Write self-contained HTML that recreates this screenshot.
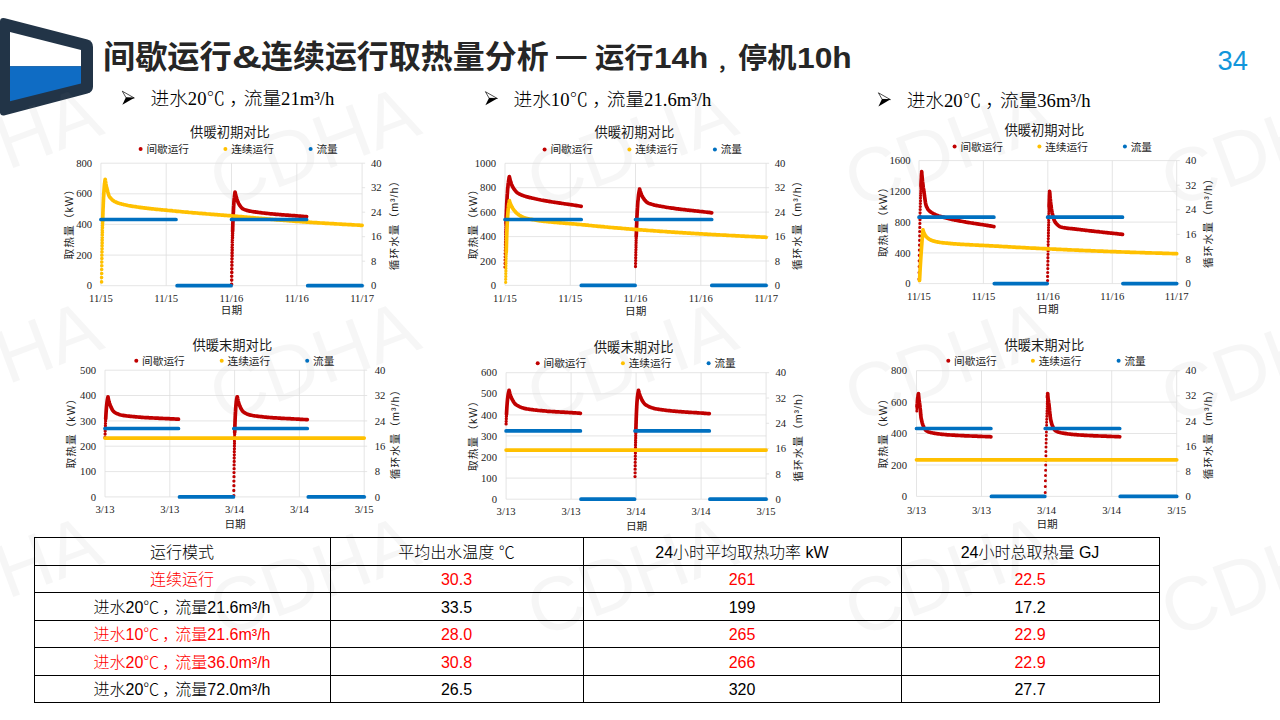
<!DOCTYPE html>
<html lang="zh-CN">
<head>
<meta charset="utf-8">
<title>间歇运行&amp;连续运行取热量分析</title>
<style>
html,body{margin:0;padding:0;background:#fff;}
body{width:1280px;height:720px;position:relative;overflow:hidden;font-family:"Liberation Sans","Noto Sans CJK SC",sans-serif;}
#bg{position:absolute;left:0;top:0;}
h1{position:absolute;left:0;top:0;margin:0;font-size:32px;line-height:44px;font-weight:bold;color:#262626;white-space:nowrap;}
h1 span{position:absolute;transform-origin:0 50%;white-space:nowrap;}
.pg{position:absolute;left:1217.6px;top:45.6px;font-size:27.3px;line-height:30px;color:#1296db;}
.bl{position:absolute;font-family:"Liberation Serif","Noto Sans CJK SC",serif;font-weight:300;font-size:18.67px;line-height:24px;color:#000;white-space:nowrap;}
.bl b{font-weight:inherit;font-family:"Noto Serif CJK SC",serif;}
.bl u{text-decoration:none;position:relative;left:4px;}
table{position:absolute;left:33.5px;top:537px;border-collapse:collapse;font-size:16px;color:#000;table-layout:fixed;}
td{border:1px solid #000;height:22.9px;font-weight:300;padding:3.6px 0 0 0;text-align:center;line-height:22.9px;white-space:nowrap;}
td u{text-decoration:none;position:relative;left:3px;}
tr.r td{color:#ff0000;}
</style>
</head>
<body>
<svg id="bg" width="1280" height="720" viewBox="0 0 1280 720">
<path d="M0 21 Q0.3 17.3 5 18.3 L87.5 39.6 Q93 41.2 93 47 L93 86.5 Q93 92 87.5 93.6 L5 115.2 Q0.3 116.2 0 112.5 Z" fill="#223447"/>
<path d="M10 32 L81 50 L81 66.2 L10 66.2 Z" fill="#ffffff"/>
<path d="M10 66.2 L81 66.2 L81 83.6 L10 101.2 Z" fill="#0f6cc4"/>
<g font-family='"Liberation Sans",sans-serif' font-size="76" fill="#808080" fill-opacity="0.071"><text transform="translate(-4.0 145.6) rotate(-20.5)" text-anchor="middle" y="27">CDHA</text><text transform="translate(313.5 145.6) rotate(-20.5)" text-anchor="middle" y="27">CDHA</text><text transform="translate(631.0 145.6) rotate(-20.5)" text-anchor="middle" y="27">CDHA</text><text transform="translate(948.5 145.6) rotate(-20.5)" text-anchor="middle" y="27">CDHA</text><text transform="translate(1265.0 145.6) rotate(-20.5)" text-anchor="middle" y="27">CDHA</text><text transform="translate(-4.0 360.2) rotate(-20.5)" text-anchor="middle" y="27">CDHA</text><text transform="translate(313.5 360.2) rotate(-20.5)" text-anchor="middle" y="27">CDHA</text><text transform="translate(631.0 360.2) rotate(-20.5)" text-anchor="middle" y="27">CDHA</text><text transform="translate(948.5 360.2) rotate(-20.5)" text-anchor="middle" y="27">CDHA</text><text transform="translate(1265.0 360.2) rotate(-20.5)" text-anchor="middle" y="27">CDHA</text><text transform="translate(-4.0 574.8) rotate(-20.5)" text-anchor="middle" y="27">CDHA</text><text transform="translate(313.5 574.8) rotate(-20.5)" text-anchor="middle" y="27">CDHA</text><text transform="translate(631.0 574.8) rotate(-20.5)" text-anchor="middle" y="27">CDHA</text><text transform="translate(948.5 574.8) rotate(-20.5)" text-anchor="middle" y="27">CDHA</text><text transform="translate(1265.0 574.8) rotate(-20.5)" text-anchor="middle" y="27">CDHA</text></g>
<path d="M122.3 91.2L134.3 98.0L126.1 97.8Z" fill="#fff" stroke="#000" stroke-width="0.7" stroke-linejoin="miter"/><path d="M125.9 97.4L134.5 97.7L122.3 104.8Z" fill="#000"/><path d="M485.4 91.7L497.4 98.5L489.2 98.3Z" fill="#fff" stroke="#000" stroke-width="0.7" stroke-linejoin="miter"/><path d="M489.0 97.9L497.6 98.2L485.4 105.3Z" fill="#000"/><path d="M878.4 92.8L890.4 99.6L882.2 99.4Z" fill="#fff" stroke="#000" stroke-width="0.7" stroke-linejoin="miter"/><path d="M882.0 99.0L890.6 99.3L878.4 106.4Z" fill="#000"/>
<g><path d="M100.9 285.7H362.1M100.9 255.1H362.1M100.9 224.4H362.1M100.9 193.8H362.1M100.9 163.2H362.1M100.9 163.2V285.7M166.2 163.2V285.7M231.5 163.2V285.7M296.8 163.2V285.7M362.1 163.2V285.7M362.1 285.7h3M362.1 261.2h3M362.1 236.7h3M362.1 212.2h3M362.1 187.7h3M362.1 163.2h3" stroke="#dedede" stroke-width="0.8" fill="none"/>
<path d="M232.6 231.4L232.7 229.5L232.7 227.6L232.8 225.9L232.8 224.2L232.9 222.5L233.0 221.0L233.0 219.5L233.1 218.1L233.1 216.7L233.2 215.4L233.2 214.1L233.3 212.9L233.4 211.7L233.4 210.6L233.5 209.5L233.5 208.5L233.6 207.5L233.6 206.6L233.7 205.7L233.8 204.0L233.9 202.4L234.0 201.0L234.1 199.7L234.2 198.5L234.4 197.3L234.5 196.3L234.6 195.4L234.8 194.1L234.9 193.0L235.0 192.3M235.1 192.0L235.3 193.0L235.4 193.9L235.6 194.8L235.9 195.8L236.2 196.8L236.5 197.9L236.8 198.8L237.2 199.9L237.5 201.0L237.9 201.8L238.2 202.7L238.7 203.7L239.2 204.6L239.7 205.4L240.3 206.2L240.9 207.0L241.6 207.7L242.3 208.4L243.0 208.9L244.0 209.4L245.0 209.8L245.9 210.1L246.8 210.4L247.8 210.6L248.8 210.9L249.8 211.1L250.9 211.3L252.1 211.5L253.2 211.7L254.1 211.8L255.1 211.9L256.0 212.1L257.0 212.2L258.0 212.3L259.0 212.5L260.1 212.6L261.1 212.7L262.2 212.9L263.4 213.0L264.5 213.1L265.7 213.3L266.9 213.4L268.1 213.5L269.4 213.7L270.7 213.8L272.0 213.9L273.3 214.0L274.2 214.1L275.1 214.2L276.0 214.3L277.0 214.4L277.9 214.4L278.9 214.5L279.8 214.6L280.8 214.7L281.8 214.8L282.8 214.8L283.8 214.9L284.8 215.0L285.9 215.1L286.9 215.2L288.0 215.2L289.1 215.3L290.2 215.4L291.2 215.5L292.4 215.6L293.5 215.7L294.6 215.7L295.8 215.8L296.9 215.9L298.1 216.0L299.3 216.1L300.5 216.2L301.7 216.3L302.9 216.4L304.1 216.5L305.3 216.6L306.6 216.7" stroke="#c00000" stroke-width="3.7" stroke-linecap="round" stroke-linejoin="round" fill="none"/>
<path d="M231.6 284.2h0M231.7 280.1h0M231.7 276.2h0M231.8 272.4h0M231.8 268.8h0M231.9 265.3h0M231.9 262.0h0M232.0 258.8h0M232.1 255.8h0M232.1 252.9h0M232.2 250.1h0M232.2 247.4h0M232.3 244.8h0M232.3 242.3h0M232.4 240.0h0M232.5 237.7h0M232.5 235.5h0M232.6 233.4h0" stroke="#c00000" stroke-width="3.6" stroke-linecap="round" fill="none"/>
<path d="M102.7 221.5L102.7 219.5L102.8 217.6L102.8 215.8L102.9 214.1L102.9 212.4L103.0 210.8L103.0 209.3L103.1 207.8L103.2 206.4L103.2 205.0L103.3 203.7L103.3 202.5L103.4 201.3L103.4 200.1L103.5 199.0L103.5 197.9L103.6 196.8L103.7 195.9L103.7 194.9L103.8 194.0L103.9 192.2L104.0 190.6L104.1 189.1L104.2 187.8L104.3 186.5L104.4 185.3L104.5 184.3L104.6 183.3L104.8 182.3L104.9 181.1L105.1 180.0L105.1 179.6M105.2 179.3L105.3 180.3L105.5 181.4L105.6 182.4L105.8 183.6L106.0 184.5L106.2 185.5L106.4 186.5L106.6 187.5L106.9 188.5L107.2 189.6L107.5 190.8L107.8 192.0L108.2 193.3L108.6 194.6L109.0 195.7L109.4 196.6L110.1 197.5L110.8 198.3L111.5 199.1L112.2 199.9L113.1 200.5L113.9 201.1L114.8 201.6L115.8 202.0L116.8 202.5L117.9 202.9L119.0 203.3L119.9 203.6L120.8 203.8L121.7 204.1L122.7 204.3L123.7 204.6L124.7 204.8L125.8 205.0L126.9 205.2L128.0 205.5L129.1 205.7L130.3 205.9L131.5 206.1L132.8 206.3L134.0 206.5L135.3 206.7L136.7 206.9L137.6 207.0L138.5 207.2L139.4 207.3L140.4 207.4L141.3 207.6L142.3 207.7L143.3 207.8L144.3 207.9L145.3 208.1L146.4 208.2L147.4 208.3L148.5 208.4L149.5 208.6L150.6 208.7L151.7 208.8L152.9 208.9L154.0 209.0L155.1 209.2L156.3 209.3L157.5 209.4L158.7 209.5L159.9 209.6L161.1 209.8L162.3 209.9L163.6 210.0L164.9 210.1L166.1 210.2L167.4 210.4L168.8 210.5L170.1 210.6L171.4 210.7L172.8 210.9L174.2 211.0L175.5 211.1L176.9 211.3L178.4 211.4L179.8 211.5L181.2 211.7L182.7 211.8L184.2 212.0L185.7 212.1L187.2 212.2L188.7 212.4L190.2 212.5L191.8 212.6L193.4 212.8L194.9 212.9L196.5 213.0L198.2 213.2L199.8 213.3L201.4 213.4L203.1 213.6L204.8 213.7L206.5 213.9L208.2 214.0L209.9 214.1L211.6 214.3L213.4 214.4L215.2 214.6L217.0 214.7L217.9 214.8L218.8 214.8L219.7 214.9L220.6 215.0L221.5 215.1L222.4 215.1L223.3 215.2L224.3 215.3L225.2 215.4L226.1 215.4L227.1 215.5L228.0 215.6L229.0 215.7L229.9 215.7L230.9 215.8L231.8 215.9L232.8 216.0L233.8 216.1L234.7 216.1L235.7 216.2L236.7 216.3L237.7 216.4L238.6 216.5L239.6 216.6L240.6 216.6L241.6 216.7L242.6 216.8L243.6 216.9L244.6 217.0L245.7 217.1L246.7 217.2L247.7 217.3L248.7 217.3L249.8 217.4L250.8 217.5L251.8 217.6L252.9 217.7L253.9 217.8L255.0 217.9L256.0 218.0L257.1 218.1L258.1 218.2L259.2 218.3L260.3 218.4L261.4 218.4L262.4 218.5L263.5 218.6L264.6 218.7L265.7 218.8L266.8 218.9L267.9 219.0L269.0 219.1L270.1 219.2L271.2 219.3L272.3 219.4L273.5 219.5L274.6 219.6L275.7 219.7L276.8 219.8L278.0 219.9L279.1 220.0L280.3 220.1L281.4 220.2L282.6 220.2L283.7 220.3L284.9 220.4L286.0 220.5L287.2 220.6L288.4 220.7L289.6 220.8L290.7 220.9L291.9 221.0L293.1 221.1L294.3 221.2L295.5 221.3L296.7 221.4L297.9 221.5L299.1 221.5L300.3 221.6L301.6 221.7L302.8 221.8L304.0 221.9L305.2 222.0L306.5 222.1L307.7 222.2L308.9 222.2L310.2 222.3L311.4 222.4L312.7 222.5L314.0 222.6L315.2 222.6L316.5 222.7L317.8 222.8L319.0 222.9L320.3 223.0L321.6 223.0L322.9 223.1L324.2 223.2L325.5 223.3L326.8 223.4L328.1 223.4L329.4 223.5L330.7 223.6L332.0 223.7L333.4 223.7L334.7 223.8L336.0 223.9L337.4 224.0L338.7 224.0L340.0 224.1L341.4 224.2L342.7 224.3L344.1 224.3L345.4 224.4L346.8 224.5L348.2 224.6L349.6 224.6L350.9 224.7L352.3 224.8L353.7 224.9L355.1 225.0L356.5 225.0L357.9 225.1L359.3 225.2L360.7 225.3L362.1 225.4" stroke="#ffc000" stroke-width="3.7" stroke-linecap="round" stroke-linejoin="round" fill="none"/>
<path d="M101.6 281.9h0M101.6 277.6h0M101.7 273.5h0M101.7 269.5h0M101.8 265.7h0M101.8 262.1h0M101.9 258.5h0M101.9 255.2h0M102.0 251.9h0M102.1 248.8h0M102.1 245.8h0M102.2 242.9h0M102.2 240.1h0M102.3 237.5h0M102.3 234.9h0M102.4 232.4h0M102.4 230.1h0M102.5 227.8h0M102.5 225.6h0M102.6 223.5h0" stroke="#ffc000" stroke-width="3.6" stroke-linecap="round" fill="none"/>
<path d="M100.9 219.5H176.0M231.5 219.5H306.6M177.1 285.7H231.1M307.7 285.7H362.1" stroke="#0070c0" stroke-width="3.7" stroke-linecap="round" fill="none"/>
<g font-family='"Liberation Serif","Noto Sans CJK SC",serif' font-size="10.67" fill="#1c1c1c">
<text x="92.2" y="289.3" text-anchor="end">0</text>
<text x="92.2" y="258.7" text-anchor="end">200</text>
<text x="92.2" y="228.0" text-anchor="end">400</text>
<text x="92.2" y="197.4" text-anchor="end">600</text>
<text x="92.2" y="166.8" text-anchor="end">800</text>
<text x="371.0" y="289.3">0</text>
<text x="371.0" y="264.8">8</text>
<text x="371.0" y="240.3">16</text>
<text x="371.0" y="215.8">24</text>
<text x="371.0" y="191.3">32</text>
<text x="371.0" y="166.8">40</text>
<text x="100.9" y="301.7" text-anchor="middle">11/15</text>
<text x="166.2" y="301.7" text-anchor="middle">11/15</text>
<text x="231.5" y="301.7" text-anchor="middle">11/16</text>
<text x="296.8" y="301.7" text-anchor="middle">11/16</text>
<text x="362.1" y="301.7" text-anchor="middle">11/17</text>
</g>
<g font-family='"Liberation Sans","Noto Sans CJK SC",sans-serif' fill="#1c1c1c">
<text x="230.0" y="136.8" text-anchor="middle" font-size="13.3">供暖初期对比</text>
<text x="231.4" y="314.3" text-anchor="middle" font-size="10.67">日期</text>
<circle cx="140.6" cy="149.0" r="2" fill="#c00000"/>
<text x="146.4" y="152.9" font-size="10.67">间歇运行</text>
<circle cx="225.4" cy="149.0" r="2" fill="#ffc000"/>
<text x="231.2" y="152.9" font-size="10.67">连续运行</text>
<circle cx="310.6" cy="149.0" r="2" fill="#0070c0"/>
<text x="316.4" y="152.9" font-size="10.67">流量</text>
<text transform="translate(69.4 221.9) rotate(-90)" text-anchor="middle" font-size="10.67" y="3.9" textLength="75" lengthAdjust="spacing">取热量（kW）</text>
<text transform="translate(393.8 223.0) rotate(-90)" text-anchor="middle" font-size="10.67" y="3.9" textLength="94.4" lengthAdjust="spacing">循环水量（m³/h）</text>
</g></g>
<g><path d="M505.0 285.4H766.1M505.0 261.0H766.1M505.0 236.6H766.1M505.0 212.1H766.1M505.0 187.7H766.1M505.0 163.3H766.1M505.0 163.3V285.4M570.3 163.3V285.4M635.5 163.3V285.4M700.8 163.3V285.4M766.1 163.3V285.4M766.1 285.4h3M766.1 261.0h3M766.1 236.6h3M766.1 212.1h3M766.1 187.7h3M766.1 163.3h3" stroke="#dedede" stroke-width="0.8" fill="none"/>
<path d="M506.0 223.3L506.1 221.3L506.1 219.4L506.2 217.6L506.2 215.8L506.3 214.2L506.4 212.5L506.4 210.9L506.5 209.4L506.6 208.0L506.6 206.6L506.7 205.2L506.7 203.9L506.8 202.6L506.9 201.4L506.9 200.3L507.0 199.1L507.1 198.0L507.1 197.0L507.2 196.0L507.2 195.0L507.3 194.1L507.4 193.2L507.5 191.5L507.6 189.9L507.7 188.4L507.9 187.1L508.0 185.8L508.1 184.6L508.2 183.5L508.4 182.5L508.5 181.6L508.7 180.3L508.9 179.1L509.0 178.1L509.2 177.2L509.3 176.9M509.4 176.6L509.5 177.5L509.8 178.4L510.0 179.3L510.2 180.3L510.5 181.2L510.8 182.2L511.1 183.1L511.4 184.1L511.8 185.1L512.2 186.0L512.7 186.9L513.2 187.8L513.7 188.6L514.3 189.4L514.9 190.2L515.5 191.0L516.2 191.7L516.9 192.4L517.7 193.0L518.5 193.5L519.3 194.0L520.2 194.4L521.1 194.8L522.1 195.2L523.1 195.6L524.2 196.0L525.3 196.3L526.4 196.7L527.3 196.9L528.2 197.1L529.1 197.4L530.0 197.6L531.0 197.8L532.0 198.1L533.0 198.3L534.1 198.5L535.2 198.8L536.3 199.0L537.4 199.3L538.5 199.5L539.7 199.7L540.9 200.0L542.1 200.2L543.4 200.4L544.6 200.7L545.9 200.9L547.3 201.1L548.2 201.3L549.1 201.4L550.0 201.6L550.9 201.7L551.9 201.9L552.8 202.0L553.8 202.2L554.8 202.3L555.8 202.5L556.8 202.6L557.8 202.8L558.8 202.9L559.8 203.1L560.9 203.2L561.9 203.4L563.0 203.5L564.1 203.7L565.2 203.9L566.3 204.0L567.4 204.2L568.6 204.3L569.7 204.5L570.8 204.7L572.0 204.8L573.2 205.0L574.4 205.2L575.6 205.4L576.8 205.6L578.0 205.8L579.3 206.0L580.5 206.2L581.2 206.3M636.2 236.4L636.3 234.4L636.4 232.6L636.4 230.8L636.5 229.0L636.5 227.3L636.6 225.7L636.7 224.1L636.7 222.6L636.8 221.2L636.8 219.8L636.9 218.4L636.9 217.1L637.0 215.9L637.1 214.7L637.1 213.5L637.2 212.4L637.2 211.3L637.3 210.3L637.4 209.3L637.4 208.3L637.5 207.4L637.6 205.6L637.7 204.0L637.8 202.5L637.9 201.1L638.1 199.8L638.2 198.6L638.3 197.4L638.4 196.4L638.5 195.4L638.6 194.5L638.8 193.3L639.0 192.2L639.2 191.2L639.4 190.1L639.6 189.3M639.6 189.1L639.9 190.0L640.2 191.0L640.5 191.9L640.8 192.8L641.1 193.8L641.5 194.8L642.0 195.8L642.4 196.6L642.9 197.4L643.4 198.2L643.9 198.9L644.4 199.7L645.0 200.4L645.7 201.1L646.3 201.8L647.1 202.4L648.0 203.0L649.0 203.4L649.9 203.7L650.8 204.0L651.7 204.3L652.7 204.6L653.7 204.9L654.8 205.2L655.9 205.4L657.0 205.6L657.9 205.8L658.8 206.0L659.8 206.1L660.7 206.3L661.7 206.5L662.7 206.6L663.7 206.8L664.8 207.0L665.9 207.2L667.0 207.4L668.1 207.5L669.3 207.7L670.5 207.9L671.7 208.1L672.9 208.2L674.2 208.4L675.5 208.6L676.8 208.8L678.1 208.9L679.0 209.1L680.0 209.2L680.9 209.3L681.8 209.4L682.8 209.5L683.7 209.6L684.7 209.7L685.7 209.8L686.7 210.0L687.7 210.1L688.7 210.2L689.8 210.3L690.8 210.4L691.9 210.5L693.0 210.6L694.0 210.8L695.1 210.9L696.2 211.0L697.4 211.1L698.5 211.2L699.6 211.4L700.8 211.5L701.9 211.6L703.1 211.7L704.3 211.9L705.5 212.0L706.7 212.2L708.0 212.3L709.2 212.4L710.4 212.6L711.7 212.8" stroke="#c00000" stroke-width="3.7" stroke-linecap="round" stroke-linejoin="round" fill="none"/>
<path d="M505.0 267.1h0M505.1 263.5h0M505.1 260.1h0M505.2 256.8h0M505.2 253.6h0M505.3 250.5h0M505.4 247.6h0M505.4 244.7h0M505.5 242.0h0M505.6 239.3h0M505.6 236.8h0M505.7 234.3h0M505.7 231.9h0M505.8 229.7h0M505.9 227.5h0M505.9 225.3h0M635.5 266.5h0M635.6 263.4h0M635.7 260.5h0M635.7 257.7h0M635.8 254.9h0M635.8 252.3h0M635.9 249.8h0M636.0 247.3h0M636.0 245.0h0M636.1 242.7h0M636.1 240.5h0M636.2 238.4h0" stroke="#c00000" stroke-width="3.3" stroke-linecap="round" fill="none"/>
<path d="M506.2 252.3L506.3 250.3L506.3 248.4L506.4 246.6L506.4 244.8L506.5 243.1L506.5 241.4L506.6 239.8L506.6 238.2L506.7 236.7L506.7 235.3L506.8 233.9L506.8 232.5L506.9 231.2L506.9 229.9L507.0 228.7L507.0 227.5L507.1 226.4L507.1 225.3L507.2 224.2L507.2 223.2L507.3 222.2L507.3 221.3L507.4 220.3L507.5 218.6L507.6 216.9L507.7 215.4L507.8 214.0L507.9 212.7L508.0 211.4L508.1 210.3L508.2 209.2L508.3 208.2L508.4 207.2L508.5 205.9L508.7 204.8L508.8 203.7L509.0 202.8L509.2 201.6L509.3 200.9M509.4 200.7L509.6 201.6L509.9 202.4L510.3 203.4L510.6 204.3L511.1 205.3L511.6 206.3L512.0 207.1L512.5 207.9L513.0 208.7L513.6 209.6L514.2 210.4L514.9 211.2L515.6 212.1L516.4 212.9L517.2 213.6L518.1 214.3L519.0 215.0L520.0 215.6L521.0 216.2L521.8 216.6L522.6 217.0L523.5 217.4L524.3 217.8L525.3 218.1L526.2 218.4L527.2 218.6L528.2 218.8L529.2 219.0L530.3 219.2L531.4 219.4L532.5 219.6L533.7 219.8L534.8 220.0L536.1 220.2L537.3 220.4L538.6 220.6L539.9 220.8L541.2 220.9L542.2 221.1L543.1 221.2L544.0 221.3L545.0 221.4L545.9 221.5L546.9 221.6L547.9 221.7L548.9 221.8L550.0 221.9L551.0 222.0L552.1 222.1L553.1 222.2L554.2 222.3L555.3 222.4L556.4 222.5L557.5 222.6L558.7 222.7L559.8 222.8L561.0 222.9L562.2 223.0L563.4 223.1L564.6 223.2L565.8 223.3L567.1 223.4L568.3 223.5L569.6 223.6L570.9 223.7L572.2 223.8L573.5 223.9L574.9 224.0L576.2 224.1L577.6 224.3L579.0 224.4L580.3 224.5L581.8 224.7L583.2 224.8L584.6 224.9L586.1 225.1L587.5 225.2L589.0 225.4L590.5 225.5L592.0 225.7L593.6 225.8L595.1 226.0L596.7 226.1L598.3 226.3L599.8 226.4L601.5 226.6L603.1 226.7L604.7 226.9L606.4 227.0L608.0 227.2L609.7 227.3L611.4 227.5L613.1 227.6L614.9 227.8L616.6 227.9L618.4 228.1L620.2 228.2L621.9 228.4L622.8 228.5L623.8 228.5L624.7 228.6L625.6 228.7L626.5 228.8L627.4 228.8L628.3 228.9L629.3 229.0L630.2 229.1L631.1 229.1L632.1 229.2L633.0 229.3L634.0 229.4L634.9 229.4L635.9 229.5L636.9 229.6L637.8 229.7L638.8 229.7L639.8 229.8L640.7 229.9L641.7 229.9L642.7 230.0L643.7 230.1L644.7 230.2L645.7 230.2L646.7 230.3L647.7 230.4L648.7 230.5L649.7 230.5L650.7 230.6L651.8 230.7L652.8 230.7L653.8 230.8L654.9 230.9L655.9 231.0L656.9 231.0L658.0 231.1L659.0 231.2L660.1 231.3L661.1 231.3L662.2 231.4L663.3 231.5L664.3 231.5L665.4 231.6L666.5 231.7L667.6 231.8L668.7 231.8L669.8 231.9L670.9 232.0L672.0 232.1L673.1 232.1L674.2 232.2L675.3 232.3L676.4 232.3L677.5 232.4L678.6 232.5L679.8 232.6L680.9 232.6L682.0 232.7L683.2 232.8L684.3 232.8L685.5 232.9L686.6 233.0L687.8 233.1L688.9 233.1L690.1 233.2L691.3 233.3L692.4 233.3L693.6 233.4L694.8 233.5L696.0 233.6L697.2 233.6L698.3 233.7L699.5 233.8L700.7 233.8L701.9 233.9L703.2 234.0L704.4 234.1L705.6 234.1L706.8 234.2L708.0 234.3L709.3 234.3L710.5 234.4L711.7 234.5L713.0 234.6L714.2 234.6L715.5 234.7L716.7 234.8L718.0 234.8L719.3 234.9L720.5 235.0L721.8 235.0L723.1 235.1L724.3 235.2L725.6 235.2L726.9 235.3L728.2 235.4L729.5 235.5L730.8 235.5L732.1 235.6L733.4 235.7L734.7 235.7L736.1 235.8L737.4 235.9L738.7 235.9L740.0 236.0L741.4 236.1L742.7 236.1L744.0 236.2L745.4 236.3L746.7 236.3L748.1 236.4L749.5 236.5L750.8 236.5L752.2 236.6L753.6 236.7L754.9 236.7L756.3 236.8L757.7 236.9L759.1 236.9L760.5 237.0L761.9 237.1L763.3 237.1L764.7 237.2L766.1 237.3" stroke="#ffc000" stroke-width="3.7" stroke-linecap="round" stroke-linejoin="round" fill="none"/>
<path d="M505.7 282.3h0M505.7 279.3h0M505.8 276.4h0M505.8 273.6h0M505.9 270.9h0M505.9 268.3h0M505.9 265.8h0M506.0 263.3h0M506.0 261.0h0M506.1 258.7h0M506.1 256.5h0M506.2 254.4h0" stroke="#ffc000" stroke-width="3.3" stroke-linecap="round" fill="none"/>
<path d="M505.0 219.5H581.2M635.5 219.5H711.7M581.3 285.4H635.1M711.8 285.4H766.1" stroke="#0070c0" stroke-width="3.7" stroke-linecap="round" fill="none"/>
<g font-family='"Liberation Serif","Noto Sans CJK SC",serif' font-size="10.67" fill="#1c1c1c">
<text x="496.1" y="289.0" text-anchor="end">0</text>
<text x="496.1" y="264.6" text-anchor="end">200</text>
<text x="496.1" y="240.2" text-anchor="end">400</text>
<text x="496.1" y="215.7" text-anchor="end">600</text>
<text x="496.1" y="191.3" text-anchor="end">800</text>
<text x="496.1" y="166.9" text-anchor="end">1000</text>
<text x="774.7" y="289.0">0</text>
<text x="774.7" y="264.6">8</text>
<text x="774.7" y="240.2">16</text>
<text x="774.7" y="215.7">24</text>
<text x="774.7" y="191.3">32</text>
<text x="774.7" y="166.9">40</text>
<text x="505.0" y="301.7" text-anchor="middle">11/15</text>
<text x="570.3" y="301.7" text-anchor="middle">11/15</text>
<text x="635.5" y="301.7" text-anchor="middle">11/16</text>
<text x="700.8" y="301.7" text-anchor="middle">11/16</text>
<text x="766.1" y="301.7" text-anchor="middle">11/17</text>
</g>
<g font-family='"Liberation Sans","Noto Sans CJK SC",sans-serif' fill="#1c1c1c">
<text x="634.3" y="136.9" text-anchor="middle" font-size="13.3">供暖初期对比</text>
<text x="635.7" y="314.6" text-anchor="middle" font-size="10.67">日期</text>
<circle cx="544.6" cy="149.5" r="2" fill="#c00000"/>
<text x="550.4" y="153.4" font-size="10.67">间歇运行</text>
<circle cx="629.4" cy="149.5" r="2" fill="#ffc000"/>
<text x="635.2" y="153.4" font-size="10.67">连续运行</text>
<circle cx="714.9" cy="149.5" r="2" fill="#0070c0"/>
<text x="720.7" y="153.4" font-size="10.67">流量</text>
<text transform="translate(472.6 221.8) rotate(-90)" text-anchor="middle" font-size="10.67" y="3.9" textLength="75" lengthAdjust="spacing">取热量（kW）</text>
<text transform="translate(797.5 222.9) rotate(-90)" text-anchor="middle" font-size="10.67" y="3.9" textLength="94.4" lengthAdjust="spacing">循环水量（m³/h）</text>
</g></g>
<g><path d="M919.0 283.6H1176.7M919.0 252.9H1176.7M919.0 222.1H1176.7M919.0 191.4H1176.7M919.0 160.6H1176.7M919.0 160.6V283.6M983.4 160.6V283.6M1047.8 160.6V283.6M1112.3 160.6V283.6M1176.7 160.6V283.6M1176.7 283.6h3M1176.7 259.0h3M1176.7 234.4h3M1176.7 209.8h3M1176.7 185.2h3M1176.7 160.6h3" stroke="#dedede" stroke-width="0.8" fill="none"/>
<path d="M921.0 186.6L921.0 184.6L921.1 182.7L921.2 180.9L921.3 179.2L921.4 177.6L921.4 176.0L921.5 174.5L921.6 173.1M921.7 171.7L921.8 172.7L921.8 173.7L921.9 174.8L922.0 175.7L922.1 176.7L922.2 177.8L922.3 178.9L922.4 180.2L922.5 181.5L922.7 182.8L922.9 184.1L923.0 185.0L923.1 185.9L923.2 186.9L923.3 187.8L923.5 188.8L923.6 189.7L923.8 190.7L923.9 191.8L924.1 192.9L924.3 194.1L924.4 195.3L924.6 196.7L924.8 198.0L925.0 199.4L925.2 200.8L925.4 202.2L925.6 203.4L925.8 204.5L926.1 205.4L926.4 206.3L926.8 207.1L927.3 208.2L927.8 209.1L928.4 209.9L929.0 210.6L929.8 211.3L930.6 211.9L931.5 212.5L932.4 213.0L933.4 213.6L934.4 214.1L935.2 214.5L936.1 214.9L936.9 215.2L937.9 215.6L938.8 215.9L939.8 216.2L940.8 216.5L941.8 216.8L942.9 217.1L944.0 217.4L945.2 217.7L946.3 218.0L947.2 218.3L948.1 218.5L949.0 218.7L950.0 219.0L951.0 219.2L951.9 219.4L952.9 219.6L953.9 219.8L955.0 220.1L956.0 220.3L957.1 220.5L958.2 220.7L959.3 220.9L960.4 221.1L961.5 221.3L962.7 221.5L963.9 221.7L965.1 221.9L966.3 222.2L967.5 222.4L968.8 222.6L970.0 222.8L971.3 223.0L972.6 223.2L973.9 223.4L974.8 223.5L975.7 223.6L976.6 223.8L977.6 223.9L978.5 224.1L979.4 224.2L980.4 224.4L981.3 224.5L982.3 224.6L983.2 224.8L984.2 225.0L985.2 225.1L986.2 225.3L987.2 225.4L988.2 225.6L989.2 225.8L990.2 225.9L991.3 226.1L992.3 226.3L993.4 226.5L993.9 226.6M1049.1 207.1L1049.1 205.1L1049.2 203.2L1049.3 201.4L1049.3 199.6L1049.4 197.8L1049.4 196.1L1049.5 194.5L1049.6 192.9M1049.6 191.4L1049.7 192.3L1049.8 193.3L1049.9 194.3L1049.9 195.2L1050.0 196.2L1050.1 197.3L1050.2 198.5L1050.4 199.8L1050.5 201.2L1050.6 202.1L1050.7 203.0L1050.8 204.0L1050.9 205.0L1051.0 205.9L1051.2 206.9L1051.3 207.8L1051.4 208.8L1051.6 209.7L1051.7 210.6L1052.0 211.9L1052.2 213.1L1052.5 214.3L1052.8 215.5L1053.1 216.6L1053.4 217.7L1053.7 218.8L1054.0 219.8L1054.4 220.7L1054.9 221.7L1055.4 222.5L1056.0 223.2L1056.6 223.9L1057.3 224.7L1058.1 225.4L1059.0 226.1L1059.9 226.6L1060.8 227.0L1061.8 227.2L1062.8 227.5L1063.9 227.7L1064.8 227.8L1065.7 228.0L1066.7 228.1L1067.6 228.3L1068.7 228.4L1069.7 228.5L1070.8 228.6L1071.9 228.7L1073.0 228.8L1074.2 228.9L1075.4 229.1L1076.3 229.2L1077.2 229.3L1078.2 229.4L1079.2 229.5L1080.1 229.6L1081.1 229.8L1082.2 229.9L1083.2 230.0L1084.3 230.1L1085.3 230.3L1086.4 230.4L1087.6 230.5L1088.7 230.7L1089.8 230.8L1091.0 230.9L1092.2 231.1L1093.4 231.2L1094.6 231.3L1095.9 231.5L1097.1 231.6L1098.4 231.7L1099.7 231.9L1101.0 232.0L1102.4 232.2L1103.3 232.3L1104.2 232.4L1105.1 232.5L1106.0 232.6L1106.9 232.7L1107.9 232.8L1108.8 232.9L1109.8 233.0L1110.7 233.1L1111.7 233.2L1112.7 233.3L1113.7 233.4L1114.7 233.5L1115.7 233.6L1116.7 233.7L1117.8 233.8L1118.8 234.0L1119.8 234.1L1120.9 234.2L1121.9 234.3L1122.5 234.4" stroke="#c00000" stroke-width="3.7" stroke-linecap="round" stroke-linejoin="round" fill="none"/>
<path d="M919.0 279.0h0M919.1 272.6h0M919.2 266.6h0M919.2 260.8h0M919.3 255.3h0M919.4 250.1h0M919.5 245.1h0M919.6 240.3h0M919.7 235.8h0M919.7 231.5h0M919.8 227.4h0M919.9 223.4h0M920.0 219.7h0M920.1 216.2h0M920.1 212.8h0M920.2 209.5h0M920.3 206.5h0M920.4 203.5h0M920.5 200.8h0M920.5 198.1h0M920.6 195.6h0M920.7 193.2h0M920.8 190.9h0M920.9 188.7h0M1047.6 280.5h0M1047.6 276.4h0M1047.7 272.5h0M1047.8 268.6h0M1047.8 264.9h0M1047.9 261.2h0M1047.9 257.7h0M1048.0 254.3h0M1048.1 250.9h0M1048.1 247.7h0M1048.2 244.6h0M1048.2 241.5h0M1048.3 238.6h0M1048.4 235.7h0M1048.4 232.9h0M1048.5 230.2h0M1048.5 227.6h0M1048.6 225.0h0M1048.7 222.5h0M1048.7 220.1h0M1048.8 217.8h0M1048.8 215.5h0M1048.9 213.3h0M1049.0 211.2h0M1049.0 209.1h0" stroke="#c00000" stroke-width="3.2" stroke-linecap="round" fill="none"/>
<path d="M919.5 280.5L919.6 279.6L919.6 278.6L919.7 277.7L919.7 276.7L919.8 275.8L919.8 274.9L919.9 274.0L919.9 273.1L920.0 271.3L920.1 269.6L920.2 267.8L920.3 266.2L920.4 264.5L920.5 262.9L920.6 261.3L920.7 259.7L920.8 258.1L920.9 256.6L921.0 255.1L921.1 253.6L921.2 252.2L921.3 250.8L921.4 249.4L921.5 248.0L921.6 246.6L921.7 245.3L921.8 244.0L921.9 242.7L922.0 241.4L922.1 240.2L922.2 239.0L922.3 237.8L922.4 236.6L922.5 235.4L922.6 234.3L922.7 233.2L922.8 232.1L922.9 231.0L922.9 230.5M923.0 229.9L923.2 230.8L923.5 231.7L923.9 232.6L924.2 233.4L924.7 234.3L925.2 235.2L925.7 236.0L926.3 236.7L927.0 237.4L927.8 238.1L928.6 238.8L929.5 239.4L930.3 239.8L931.2 240.2L932.0 240.6L933.0 240.9L934.0 241.1L935.0 241.4L936.1 241.7L937.2 241.9L938.1 242.1L939.0 242.2L939.9 242.4L940.9 242.5L941.9 242.7L943.0 242.8L944.0 242.9L945.1 243.0L946.2 243.1L947.4 243.2L948.6 243.3L949.8 243.4L951.0 243.6L952.3 243.7L953.6 243.8L954.9 243.9L955.8 243.9L956.8 244.0L957.7 244.1L958.7 244.1L959.6 244.2L960.6 244.3L961.6 244.3L962.6 244.4L963.6 244.4L964.7 244.5L965.7 244.6L966.8 244.6L967.8 244.7L968.9 244.7L970.0 244.8L971.2 244.9L972.3 244.9L973.5 245.0L974.6 245.0L975.8 245.1L977.0 245.1L978.2 245.2L979.4 245.3L980.7 245.3L981.9 245.4L983.2 245.4L984.5 245.5L985.7 245.6L987.1 245.6L988.4 245.7L989.7 245.8L991.1 245.8L992.4 245.9L993.8 246.0L995.2 246.1L996.6 246.2L998.1 246.2L999.5 246.3L1001.0 246.4L1002.4 246.5L1003.9 246.6L1005.4 246.6L1007.0 246.7L1008.5 246.8L1010.0 246.9L1011.6 247.0L1013.2 247.1L1014.8 247.2L1016.4 247.3L1018.0 247.3L1019.7 247.4L1021.3 247.5L1023.0 247.6L1024.7 247.7L1026.4 247.8L1028.1 247.9L1029.8 248.0L1031.6 248.1L1033.4 248.1L1035.1 248.2L1036.9 248.3L1037.8 248.4L1038.7 248.4L1039.7 248.5L1040.6 248.5L1041.5 248.5L1042.4 248.6L1043.3 248.6L1044.3 248.7L1045.2 248.7L1046.1 248.8L1047.1 248.8L1048.0 248.9L1049.0 248.9L1049.9 249.0L1050.9 249.0L1051.9 249.0L1052.8 249.1L1053.8 249.1L1054.8 249.2L1055.7 249.2L1056.7 249.3L1057.7 249.3L1058.7 249.4L1059.7 249.4L1060.7 249.4L1061.7 249.5L1062.7 249.5L1063.7 249.6L1064.7 249.6L1065.7 249.7L1066.8 249.7L1067.8 249.8L1068.8 249.8L1069.9 249.9L1070.9 249.9L1071.9 250.0L1073.0 250.0L1074.0 250.0L1075.1 250.1L1076.1 250.1L1077.2 250.2L1078.3 250.2L1079.3 250.3L1080.4 250.3L1081.5 250.4L1082.6 250.4L1083.7 250.5L1084.7 250.5L1085.8 250.6L1086.9 250.6L1088.0 250.6L1089.1 250.7L1090.3 250.7L1091.4 250.8L1092.5 250.8L1093.6 250.9L1094.7 250.9L1095.9 251.0L1097.0 251.0L1098.1 251.1L1099.3 251.1L1100.4 251.2L1101.6 251.2L1102.7 251.2L1103.9 251.3L1105.1 251.3L1106.2 251.4L1107.4 251.4L1108.6 251.5L1109.7 251.5L1110.9 251.6L1112.1 251.6L1113.3 251.6L1114.5 251.7L1115.7 251.7L1116.9 251.8L1118.1 251.8L1119.3 251.9L1120.5 251.9L1121.8 252.0L1123.0 252.0L1124.2 252.0L1125.4 252.1L1126.7 252.1L1127.9 252.2L1129.2 252.2L1130.4 252.3L1131.7 252.3L1132.9 252.3L1134.2 252.4L1135.4 252.4L1136.7 252.5L1138.0 252.5L1139.3 252.5L1140.5 252.6L1141.8 252.6L1143.1 252.7L1144.4 252.7L1145.7 252.8L1147.0 252.8L1148.3 252.8L1149.6 252.9L1150.9 252.9L1152.3 253.0L1153.6 253.0L1154.9 253.0L1156.2 253.1L1157.6 253.1L1158.9 253.2L1160.3 253.2L1161.6 253.2L1163.0 253.3L1164.3 253.3L1165.7 253.4L1167.0 253.4L1168.4 253.4L1169.8 253.5L1171.2 253.5L1172.5 253.6L1173.9 253.6L1175.3 253.7L1176.7 253.7" stroke="#ffc000" stroke-width="3.7" stroke-linecap="round" stroke-linejoin="round" fill="none"/>
<path d="M919.0 217.2H993.9M1047.6 217.2H1122.5M994.3 283.6H1047.2M1122.9 283.6H1176.7" stroke="#0070c0" stroke-width="3.7" stroke-linecap="round" fill="none"/>
<g font-family='"Liberation Serif","Noto Sans CJK SC",serif' font-size="10.67" fill="#1c1c1c">
<text x="910.7" y="287.2" text-anchor="end">0</text>
<text x="910.7" y="256.5" text-anchor="end">400</text>
<text x="910.7" y="225.7" text-anchor="end">800</text>
<text x="910.7" y="195.0" text-anchor="end">1200</text>
<text x="910.7" y="164.2" text-anchor="end">1600</text>
<text x="1185.6" y="287.2">0</text>
<text x="1185.6" y="262.6">8</text>
<text x="1185.6" y="238.0">16</text>
<text x="1185.6" y="213.4">24</text>
<text x="1185.6" y="188.8">32</text>
<text x="1185.6" y="164.2">40</text>
<text x="919.0" y="299.5" text-anchor="middle">11/15</text>
<text x="983.4" y="299.5" text-anchor="middle">11/15</text>
<text x="1047.8" y="299.5" text-anchor="middle">11/16</text>
<text x="1112.3" y="299.5" text-anchor="middle">11/16</text>
<text x="1176.7" y="299.5" text-anchor="middle">11/17</text>
</g>
<g font-family='"Liberation Sans","Noto Sans CJK SC",sans-serif' fill="#1c1c1c">
<text x="1044.3" y="134.9" text-anchor="middle" font-size="13.3">供暖初期对比</text>
<text x="1048.0" y="312.6" text-anchor="middle" font-size="10.67">日期</text>
<circle cx="954.6" cy="146.6" r="2" fill="#c00000"/>
<text x="960.4" y="150.5" font-size="10.67">间歇运行</text>
<circle cx="1039.4" cy="146.6" r="2" fill="#ffc000"/>
<text x="1045.2" y="150.5" font-size="10.67">连续运行</text>
<circle cx="1124.9" cy="146.6" r="2" fill="#0070c0"/>
<text x="1130.7" y="150.5" font-size="10.67">流量</text>
<text transform="translate(883.4 219.6) rotate(-90)" text-anchor="middle" font-size="10.67" y="3.9" textLength="75" lengthAdjust="spacing">取热量（kW）</text>
<text transform="translate(1208.0 220.7) rotate(-90)" text-anchor="middle" font-size="10.67" y="3.9" textLength="94.4" lengthAdjust="spacing">循环水量（m³/h）</text>
</g></g>
<g><path d="M105.0 496.9H364.2M105.0 471.6H364.2M105.0 446.2H364.2M105.0 420.9H364.2M105.0 395.5H364.2M105.0 370.2H364.2M105.0 370.2V496.9M169.8 370.2V496.9M234.6 370.2V496.9M299.4 370.2V496.9M364.2 370.2V496.9M364.2 496.9h3M364.2 471.6h3M364.2 446.2h3M364.2 420.9h3M364.2 395.5h3M364.2 370.2h3" stroke="#dedede" stroke-width="0.8" fill="none"/>
<path d="M105.7 419.0L105.8 417.1L105.9 415.3L106.0 413.7L106.1 412.1L106.2 410.7L106.3 409.3L106.4 408.1L106.5 406.9L106.6 405.9L106.7 404.9L106.8 403.9L107.0 402.3L107.2 400.8L107.4 399.6L107.6 398.5L107.8 397.6L107.9 397.2M108.0 396.8L108.1 397.7L108.3 398.6L108.5 399.6L108.7 400.6L109.0 401.5L109.2 402.4L109.5 403.4L109.8 404.3L110.2 405.2L110.6 406.1L111.0 407.1L111.5 408.1L112.0 409.1L112.5 410.1L113.1 410.9L113.7 411.6L114.5 412.2L115.4 412.8L116.4 413.3L117.4 413.8L118.2 414.1L119.1 414.4L120.0 414.7L121.0 415.0L122.0 415.2L123.1 415.4L124.2 415.6L125.3 415.7L126.5 415.9L127.4 416.0L128.3 416.1L129.3 416.2L130.2 416.3L131.2 416.4L132.3 416.5L133.3 416.6L134.4 416.7L135.5 416.8L136.6 416.9L137.8 417.0L139.0 417.1L140.2 417.2L141.4 417.3L142.7 417.4L143.9 417.5L145.2 417.6L146.6 417.6L147.5 417.7L148.4 417.7L149.3 417.8L150.2 417.8L151.2 417.9L152.1 417.9L153.1 418.0L154.1 418.0L155.1 418.1L156.1 418.1L157.1 418.2L158.1 418.2L159.1 418.3L160.2 418.3L161.2 418.4L162.3 418.4L163.4 418.5L164.5 418.5L165.6 418.6L166.7 418.6L167.8 418.7L169.0 418.7L170.1 418.8L171.3 418.8L172.5 418.9L173.7 418.9L174.9 419.0L176.1 419.1L177.3 419.2L178.5 419.2M234.7 432.3L234.8 430.4L234.8 428.5L234.9 426.8L234.9 425.2L235.0 423.6L235.0 422.1L235.1 420.7L235.1 419.4L235.2 418.1L235.2 416.9L235.3 415.8L235.3 414.7L235.4 413.6L235.4 412.6L235.5 411.7L235.6 410.0L235.7 408.4L235.8 407.0L235.9 405.7L236.0 404.6L236.1 403.6L236.2 402.6L236.3 401.4L236.5 400.4L236.6 399.4L236.8 398.4L237.1 397.4L237.2 397.0M237.3 396.8L237.5 397.7L237.7 398.8L237.9 399.7L238.1 400.8L238.3 401.7L238.6 402.6L238.9 403.5L239.2 404.5L239.6 405.4L240.0 406.3L240.4 407.3L240.9 408.3L241.4 409.3L242.0 410.2L242.5 411.1L243.2 411.7L244.0 412.3L244.9 412.9L245.8 413.4L246.8 413.9L247.7 414.2L248.6 414.6L249.5 414.9L250.5 415.1L251.5 415.3L252.5 415.5L253.6 415.7L254.8 415.9L255.9 416.0L256.9 416.1L257.8 416.3L258.8 416.4L259.7 416.5L260.7 416.6L261.8 416.7L262.8 416.8L263.9 417.0L265.0 417.1L266.1 417.2L267.3 417.3L268.5 417.4L269.7 417.5L270.9 417.6L272.1 417.7L273.4 417.8L274.7 417.9L276.0 417.9L277.4 418.0L278.3 418.1L279.2 418.1L280.2 418.2L281.1 418.3L282.1 418.3L283.0 418.4L284.0 418.4L285.0 418.5L286.0 418.5L287.0 418.6L288.1 418.6L289.1 418.7L290.2 418.7L291.2 418.8L292.3 418.8L293.4 418.9L294.5 419.0L295.6 419.0L296.7 419.1L297.9 419.1L299.0 419.2L300.2 419.3L301.3 419.3L302.5 419.4L303.7 419.5L304.9 419.5L306.1 419.6L307.3 419.7" stroke="#c00000" stroke-width="3.7" stroke-linecap="round" stroke-linejoin="round" fill="none"/>
<path d="M105.0 437.4h0M105.1 434.1h0M105.2 431.1h0M105.3 428.3h0M105.4 425.8h0M105.5 423.4h0M105.6 421.1h0M233.8 495.6h0M233.8 490.5h0M233.9 485.7h0M233.9 481.1h0M234.0 476.7h0M234.0 472.6h0M234.1 468.7h0M234.1 464.9h0M234.2 461.4h0M234.2 458.0h0M234.3 454.8h0M234.3 451.7h0M234.4 448.8h0M234.4 446.1h0M234.5 443.5h0M234.5 441.0h0M234.6 438.7h0M234.6 436.4h0M234.7 434.3h0" stroke="#c00000" stroke-width="3.3" stroke-linecap="round" fill="none"/>
<path d="M105.0 438.1L364.2 438.1" stroke="#ffc000" stroke-width="3.7" stroke-linecap="round" stroke-linejoin="round" fill="none"/>
<path d="M105.0 428.5H178.5M233.8 428.5H307.3M179.5 496.9H233.4M308.3 496.9H364.2" stroke="#0070c0" stroke-width="3.7" stroke-linecap="round" fill="none"/>
<g font-family='"Liberation Serif","Noto Sans CJK SC",serif' font-size="10.67" fill="#1c1c1c">
<text x="96.1" y="500.5" text-anchor="end">0</text>
<text x="96.1" y="475.2" text-anchor="end">100</text>
<text x="96.1" y="449.8" text-anchor="end">200</text>
<text x="96.1" y="424.5" text-anchor="end">300</text>
<text x="96.1" y="399.1" text-anchor="end">400</text>
<text x="96.1" y="373.8" text-anchor="end">500</text>
<text x="374.7" y="500.5">0</text>
<text x="374.7" y="475.2">8</text>
<text x="374.7" y="449.8">16</text>
<text x="374.7" y="424.5">24</text>
<text x="374.7" y="399.1">32</text>
<text x="374.7" y="373.8">40</text>
<text x="105.0" y="513.0" text-anchor="middle">3/13</text>
<text x="169.8" y="513.0" text-anchor="middle">3/13</text>
<text x="234.6" y="513.0" text-anchor="middle">3/14</text>
<text x="299.4" y="513.0" text-anchor="middle">3/14</text>
<text x="364.2" y="513.0" text-anchor="middle">3/15</text>
</g>
<g font-family='"Liberation Sans","Noto Sans CJK SC",sans-serif' fill="#1c1c1c">
<text x="232.3" y="349.9" text-anchor="middle" font-size="13.3">供暖末期对比</text>
<text x="235.1" y="527.6" text-anchor="middle" font-size="10.67">日期</text>
<circle cx="136.3" cy="360.8" r="2" fill="#c00000"/>
<text x="142.1" y="364.7" font-size="10.67">间歇运行</text>
<circle cx="221.7" cy="360.8" r="2" fill="#ffc000"/>
<text x="227.5" y="364.7" font-size="10.67">连续运行</text>
<circle cx="307.2" cy="360.8" r="2" fill="#0070c0"/>
<text x="313.0" y="364.7" font-size="10.67">流量</text>
<text transform="translate(71.4 431.0) rotate(-90)" text-anchor="middle" font-size="10.67" y="3.9" textLength="75" lengthAdjust="spacing">取热量（kW）</text>
<text transform="translate(394.6 432.1) rotate(-90)" text-anchor="middle" font-size="10.67" y="3.9" textLength="94.4" lengthAdjust="spacing">循环水量（m³/h）</text>
</g></g>
<g><path d="M506.1 499.2H766.1M506.1 478.1H766.1M506.1 457.0H766.1M506.1 435.9H766.1M506.1 414.9H766.1M506.1 393.8H766.1M506.1 372.7H766.1M506.1 372.7V499.2M571.1 372.7V499.2M636.1 372.7V499.2M701.1 372.7V499.2M766.1 372.7V499.2M766.1 499.2h3M766.1 473.9h3M766.1 448.6h3M766.1 423.3h3M766.1 398.0h3M766.1 372.7h3" stroke="#dedede" stroke-width="0.8" fill="none"/>
<path d="M506.5 414.3L506.6 412.4L506.7 410.5L506.8 408.8L506.9 407.2L507.0 405.7L507.1 404.3L507.2 403.1L507.3 401.9L507.4 400.8L507.5 399.7L507.6 398.8L507.8 397.1L508.0 395.6L508.2 394.3L508.4 393.2L508.6 392.3L508.9 391.1L509.0 390.7M509.1 390.4L509.3 391.3L509.5 392.3L509.8 393.3L510.0 394.2L510.3 395.2L510.7 396.2L511.1 397.2L511.5 398.0L511.9 398.9L512.4 399.8L512.9 400.7L513.4 401.6L514.0 402.5L514.6 403.3L515.2 404.0L516.1 404.7L517.0 405.3L517.8 405.7L518.6 406.2L519.4 406.6L520.3 407.0L521.3 407.4L522.3 407.7L523.3 408.1L524.3 408.4L525.4 408.6L526.6 408.9L527.8 409.0L528.7 409.2L529.6 409.3L530.6 409.5L531.6 409.6L532.6 409.7L533.6 409.9L534.7 410.0L535.8 410.1L536.9 410.2L538.1 410.4L539.2 410.5L540.4 410.6L541.6 410.7L542.9 410.8L544.1 410.9L545.4 411.0L546.7 411.2L548.1 411.3L549.0 411.3L549.9 411.4L550.8 411.5L551.8 411.5L552.7 411.6L553.7 411.6L554.7 411.7L555.7 411.8L556.7 411.8L557.7 411.9L558.7 411.9L559.8 412.0L560.8 412.1L561.9 412.1L562.9 412.2L564.0 412.2L565.1 412.3L566.2 412.4L567.3 412.4L568.5 412.5L569.6 412.6L570.8 412.6L571.9 412.7L573.1 412.8L574.3 412.8L575.5 412.9L576.7 413.0L577.9 413.1L579.2 413.2L580.4 413.3M635.8 431.6L635.9 429.7L635.9 427.8L636.0 426.1L636.0 424.4L636.1 422.8L636.1 421.2L636.2 419.8L636.2 418.3L636.3 417.0L636.3 415.7L636.4 414.4L636.4 413.2L636.5 412.1L636.5 411.0L636.6 409.9L636.6 408.9L636.7 408.0L636.7 407.0L636.8 405.3L636.9 403.7L637.0 402.2L637.1 400.9L637.2 399.7L637.3 398.5L637.4 397.5L637.5 396.5L637.7 395.3L637.8 394.1L638.0 393.1L638.2 392.0L638.4 391.0L638.5 390.6M638.5 390.4L638.7 391.3L638.9 392.3L639.2 393.3L639.5 394.2L639.8 395.2L640.2 396.2L640.6 397.2L641.1 398.2L641.5 399.1L642.0 400.0L642.4 400.9L643.0 401.8L643.5 402.6L644.2 403.4L644.8 404.1L645.7 404.8L646.6 405.3L647.4 405.8L648.2 406.2L649.0 406.7L649.9 407.1L650.9 407.4L651.9 407.8L652.9 408.1L653.9 408.4L655.1 408.7L656.2 408.9L657.1 409.0L658.0 409.2L658.9 409.3L659.9 409.5L660.9 409.6L661.9 409.8L662.9 409.9L664.0 410.0L665.1 410.2L666.2 410.3L667.3 410.5L668.5 410.6L669.6 410.7L670.8 410.8L672.1 411.0L673.3 411.1L674.6 411.2L675.9 411.3L677.2 411.4L678.1 411.5L679.1 411.6L680.0 411.6L680.9 411.7L681.9 411.8L682.8 411.9L683.8 411.9L684.8 412.0L685.8 412.1L686.8 412.1L687.8 412.2L688.8 412.3L689.9 412.3L690.9 412.4L692.0 412.5L693.1 412.5L694.1 412.6L695.2 412.7L696.3 412.7L697.5 412.8L698.6 412.9L699.7 413.0L700.9 413.0L702.1 413.1L703.3 413.2L704.4 413.3L705.6 413.4L706.9 413.5L708.1 413.6L709.3 413.7" stroke="#c00000" stroke-width="3.7" stroke-linecap="round" stroke-linejoin="round" fill="none"/>
<path d="M506.1 423.9h0M506.2 421.3h0M506.3 418.8h0M506.4 416.5h0M635.0 476.6h0M635.1 472.8h0M635.1 469.2h0M635.2 465.7h0M635.2 462.3h0M635.3 459.1h0M635.3 456.1h0M635.4 453.1h0M635.4 450.3h0M635.5 447.6h0M635.5 445.0h0M635.6 442.5h0M635.6 440.2h0M635.7 437.9h0M635.7 435.7h0M635.8 433.6h0" stroke="#c00000" stroke-width="3.3" stroke-linecap="round" fill="none"/>
<path d="M506.1 450.1L766.1 450.1" stroke="#ffc000" stroke-width="3.7" stroke-linecap="round" stroke-linejoin="round" fill="none"/>
<path d="M506.1 430.9H580.4M635.0 430.9H709.3M581.0 499.2H634.6M709.9 499.2H766.1" stroke="#0070c0" stroke-width="3.7" stroke-linecap="round" fill="none"/>
<g font-family='"Liberation Serif","Noto Sans CJK SC",serif' font-size="10.67" fill="#1c1c1c">
<text x="497.0" y="502.8" text-anchor="end">0</text>
<text x="497.0" y="481.7" text-anchor="end">100</text>
<text x="497.0" y="460.6" text-anchor="end">200</text>
<text x="497.0" y="439.6" text-anchor="end">300</text>
<text x="497.0" y="418.5" text-anchor="end">400</text>
<text x="497.0" y="397.4" text-anchor="end">500</text>
<text x="497.0" y="376.3" text-anchor="end">600</text>
<text x="775.5" y="502.8">0</text>
<text x="775.5" y="477.5">8</text>
<text x="775.5" y="452.2">16</text>
<text x="775.5" y="426.9">24</text>
<text x="775.5" y="401.6">32</text>
<text x="775.5" y="376.3">40</text>
<text x="506.1" y="515.0" text-anchor="middle">3/13</text>
<text x="571.1" y="515.0" text-anchor="middle">3/13</text>
<text x="636.1" y="515.0" text-anchor="middle">3/14</text>
<text x="701.1" y="515.0" text-anchor="middle">3/14</text>
<text x="766.1" y="515.0" text-anchor="middle">3/15</text>
</g>
<g font-family='"Liberation Sans","Noto Sans CJK SC",sans-serif' fill="#1c1c1c">
<text x="633.7" y="351.9" text-anchor="middle" font-size="13.3">供暖末期对比</text>
<text x="636.6" y="529.9" text-anchor="middle" font-size="10.67">日期</text>
<circle cx="537.7" cy="363.3" r="2" fill="#c00000"/>
<text x="543.5" y="367.2" font-size="10.67">间歇运行</text>
<circle cx="622.9" cy="363.3" r="2" fill="#ffc000"/>
<text x="628.7" y="367.2" font-size="10.67">连续运行</text>
<circle cx="708.6" cy="363.3" r="2" fill="#0070c0"/>
<text x="714.4" y="367.2" font-size="10.67">流量</text>
<text transform="translate(472.8 433.4) rotate(-90)" text-anchor="middle" font-size="10.67" y="3.9" textLength="75" lengthAdjust="spacing">取热量（kW）</text>
<text transform="translate(798.0 434.5) rotate(-90)" text-anchor="middle" font-size="10.67" y="3.9" textLength="94.4" lengthAdjust="spacing">循环水量（m³/h）</text>
</g></g>
<g><path d="M916.5 496.4H1176.7M916.5 465.0H1176.7M916.5 433.5H1176.7M916.5 402.1H1176.7M916.5 370.7H1176.7M916.5 370.7V496.4M981.5 370.7V496.4M1046.6 370.7V496.4M1111.7 370.7V496.4M1176.7 370.7V496.4M1176.7 496.4h3M1176.7 471.3h3M1176.7 446.1h3M1176.7 421.0h3M1176.7 395.8h3M1176.7 370.7h3" stroke="#dedede" stroke-width="0.8" fill="none"/>
<path d="M917.0 406.7L917.1 404.9L917.3 403.2L917.4 401.7L917.5 400.3L917.6 399.1L917.7 398.0L917.9 397.1L918.1 395.4L918.3 394.1M918.5 393.5L918.5 394.4L918.6 395.4L918.7 396.3L918.8 397.4L918.9 398.5L919.0 399.4L919.1 400.4L919.3 401.3L919.4 402.3L919.6 403.4L919.7 404.6L919.9 405.6L920.0 406.6L920.1 407.9L920.3 409.4L920.4 411.0L920.6 412.8L920.7 414.5L920.9 416.0L921.0 417.3L921.2 418.3L921.4 419.3L921.6 420.2L921.8 421.1L922.1 422.4L922.4 423.5L922.7 424.6L923.1 425.5L923.5 426.3L923.8 427.2L924.4 428.2L924.9 429.2L925.5 430.0L926.3 430.7L927.1 431.2L927.9 431.6L928.8 432.0L929.8 432.3L930.8 432.6L931.8 432.8L932.9 433.0L933.8 433.2L934.7 433.3L935.6 433.5L936.6 433.6L937.6 433.8L938.7 433.9L939.8 434.0L940.9 434.2L942.0 434.3L943.2 434.4L944.4 434.5L945.3 434.6L946.2 434.7L947.2 434.8L948.2 434.8L949.1 434.9L950.1 435.0L951.2 435.0L952.2 435.1L953.3 435.2L954.4 435.2L955.5 435.3L956.6 435.4L957.7 435.4L958.8 435.5L960.0 435.5L961.2 435.6L962.4 435.7L963.6 435.7L964.9 435.8L966.1 435.8L967.4 435.9L968.7 435.9L970.0 436.0L971.4 436.0L972.3 436.1L973.2 436.1L974.1 436.1L975.0 436.2L975.9 436.2L976.9 436.2L977.8 436.3L978.8 436.3L979.7 436.3L980.7 436.4L981.7 436.4L982.7 436.5L983.7 436.5L984.7 436.5L985.7 436.6L986.7 436.6L987.8 436.7L988.8 436.7L989.9 436.7L990.9 436.8M1047.5 397.3L1047.6 395.4M1047.7 393.5L1047.8 394.4L1047.8 395.4L1047.9 396.3L1048.0 397.4L1048.1 398.5L1048.2 399.4L1048.4 400.3L1048.5 401.3L1048.6 402.3L1048.8 403.3L1049.0 404.6L1049.1 405.5L1049.2 406.6L1049.3 407.8L1049.5 409.3L1049.6 410.9L1049.8 412.6L1049.9 414.3L1050.1 415.9L1050.3 417.2L1050.4 418.2L1050.6 419.2L1050.8 420.1L1051.0 421.0L1051.3 422.3L1051.6 423.4L1051.9 424.5L1052.3 425.4L1052.7 426.3L1053.0 427.1L1053.6 428.2L1054.1 429.1L1054.7 430.0L1055.4 430.7L1056.3 431.2L1057.1 431.6L1058.0 431.9L1058.9 432.3L1059.9 432.5L1060.9 432.8L1062.0 433.0L1062.9 433.1L1063.8 433.3L1064.8 433.4L1065.7 433.6L1066.7 433.7L1067.8 433.9L1068.9 434.0L1070.0 434.1L1071.1 434.3L1072.2 434.4L1073.4 434.5L1074.3 434.6L1075.3 434.7L1076.2 434.7L1077.2 434.8L1078.2 434.9L1079.2 435.0L1080.2 435.0L1081.2 435.1L1082.3 435.2L1083.3 435.2L1084.4 435.3L1085.5 435.3L1086.7 435.4L1087.8 435.5L1089.0 435.5L1090.1 435.6L1091.3 435.6L1092.6 435.7L1093.8 435.8L1095.0 435.8L1096.3 435.9L1097.6 435.9L1098.9 436.0L1100.2 436.0L1101.6 436.1L1102.5 436.1L1103.4 436.1L1104.3 436.2L1105.2 436.2L1106.2 436.2L1107.1 436.3L1108.1 436.3L1109.0 436.4L1110.0 436.4L1111.0 436.4L1112.0 436.5L1113.0 436.5L1114.0 436.5L1115.0 436.6L1116.0 436.6L1117.1 436.7L1118.1 436.7L1119.1 436.7L1119.7 436.8" stroke="#c00000" stroke-width="3.7" stroke-linecap="round" stroke-linejoin="round" fill="none"/>
<path d="M916.8 411.1h0M916.9 408.8h0M1045.2 492.5h0M1045.3 486.5h0M1045.4 480.8h0M1045.5 475.4h0M1045.6 470.2h0M1045.7 465.1h0M1045.8 460.4h0M1045.9 455.8h0M1045.9 451.4h0M1046.0 447.1h0M1046.1 443.1h0M1046.2 439.2h0M1046.3 435.5h0M1046.4 432.0h0M1046.5 428.6h0M1046.6 425.3h0M1046.6 422.2h0M1046.7 419.2h0M1046.8 416.3h0M1046.9 413.6h0M1047.0 410.9h0M1047.1 408.4h0M1047.2 406.0h0M1047.2 403.7h0M1047.3 401.5h0M1047.4 399.3h0" stroke="#c00000" stroke-width="3.0" stroke-linecap="round" fill="none"/>
<path d="M916.5 459.8L1176.7 459.8" stroke="#ffc000" stroke-width="3.7" stroke-linecap="round" stroke-linejoin="round" fill="none"/>
<path d="M916.5 428.5H990.9M1045.2 428.5H1119.7M991.4 496.4H1044.8M1120.2 496.4H1176.7" stroke="#0070c0" stroke-width="3.7" stroke-linecap="round" fill="none"/>
<g font-family='"Liberation Serif","Noto Sans CJK SC",serif' font-size="10.67" fill="#1c1c1c">
<text x="907.0" y="500.0" text-anchor="end">0</text>
<text x="907.0" y="468.6" text-anchor="end">200</text>
<text x="907.0" y="437.1" text-anchor="end">400</text>
<text x="907.0" y="405.7" text-anchor="end">600</text>
<text x="907.0" y="374.3" text-anchor="end">800</text>
<text x="1185.6" y="500.0">0</text>
<text x="1185.6" y="474.9">8</text>
<text x="1185.6" y="449.7">16</text>
<text x="1185.6" y="424.6">24</text>
<text x="1185.6" y="399.4">32</text>
<text x="1185.6" y="374.3">40</text>
<text x="916.5" y="513.6" text-anchor="middle">3/13</text>
<text x="981.5" y="513.6" text-anchor="middle">3/13</text>
<text x="1046.6" y="513.6" text-anchor="middle">3/14</text>
<text x="1111.7" y="513.6" text-anchor="middle">3/14</text>
<text x="1176.7" y="513.6" text-anchor="middle">3/15</text>
</g>
<g font-family='"Liberation Sans","Noto Sans CJK SC",sans-serif' fill="#1c1c1c">
<text x="1044.3" y="349.9" text-anchor="middle" font-size="13.3">供暖末期对比</text>
<text x="1047.1" y="527.6" text-anchor="middle" font-size="10.67">日期</text>
<circle cx="948.3" cy="360.8" r="2" fill="#c00000"/>
<text x="954.1" y="364.7" font-size="10.67">间歇运行</text>
<circle cx="1032.9" cy="360.8" r="2" fill="#ffc000"/>
<text x="1038.7" y="364.7" font-size="10.67">连续运行</text>
<circle cx="1118.6" cy="360.8" r="2" fill="#0070c0"/>
<text x="1124.4" y="364.7" font-size="10.67">流量</text>
<text transform="translate(883.4 431.0) rotate(-90)" text-anchor="middle" font-size="10.67" y="3.9" textLength="75" lengthAdjust="spacing">取热量（kW）</text>
<text transform="translate(1208.0 432.1) rotate(-90)" text-anchor="middle" font-size="10.67" y="3.9" textLength="94.4" lengthAdjust="spacing">循环水量（m³/h）</text>
</g></g>
</svg>
<h1><span style="left:103.29px;top:34.50px;font-size:32px;transform:scaleX(1.0056)">间歇运行</span><span style="left:231.50px;top:34.50px;font-size:32px;transform:scaleX(1.2952)">&amp;</span><span style="left:260.90px;top:34.50px;font-size:32px;transform:scaleX(0.9986)">连续运行取热量分析</span><span style="left:556.30px;top:34.20px;font-size:28.8px;transform:scaleX(1.0552)">—</span><span style="left:595.38px;top:35.75px;font-size:28.8px;transform:scaleX(1.0161)">运行</span><span style="left:654.41px;top:35.75px;font-size:28.8px;transform:scaleX(1.0935)">14h</span><span style="left:717.00px;top:42.00px;font-size:19px;transform:scaleX(1.0000)">，</span><span style="left:737.58px;top:35.75px;font-size:28.8px;transform:scaleX(1.0161)">停机</span><span style="left:796.60px;top:35.75px;font-size:28.8px;transform:scaleX(1.1022)">10h</span></h1>
<div class="pg">34</div>
<div class="bl" style="left:150.5px;top:85px">进水20<b>℃</b><u>，</u>流量21m³/h</div>
<div class="bl" style="left:513.5px;top:85.9px">进水10<b>℃</b><u>，</u>流量21.6m³/h</div>
<div class="bl" style="left:906.7px;top:86.8px">进水20<b>℃</b><u>，</u>流量36m³/h</div>
<table>
<colgroup><col style="width:296px"><col style="width:253px"><col style="width:318px"><col style="width:258px"></colgroup>
<tr><td>运行模式</td><td>平均出水温度 ℃</td><td>24小时平均取热功率 kW</td><td>24小时总取热量 GJ</td></tr>
<tr class="r"><td>连续运行</td><td>30.3</td><td>261</td><td>22.5</td></tr>
<tr><td>进水20℃<u>，</u>流量21.6m³/h</td><td>33.5</td><td>199</td><td>17.2</td></tr>
<tr class="r"><td>进水10℃<u>，</u>流量21.6m³/h</td><td>28.0</td><td>265</td><td>22.9</td></tr>
<tr class="r"><td>进水20℃<u>，</u>流量36.0m³/h</td><td>30.8</td><td>266</td><td>22.9</td></tr>
<tr><td>进水20℃<u>，</u>流量72.0m³/h</td><td>26.5</td><td>320</td><td>27.7</td></tr>
</table>
</body>
</html>
